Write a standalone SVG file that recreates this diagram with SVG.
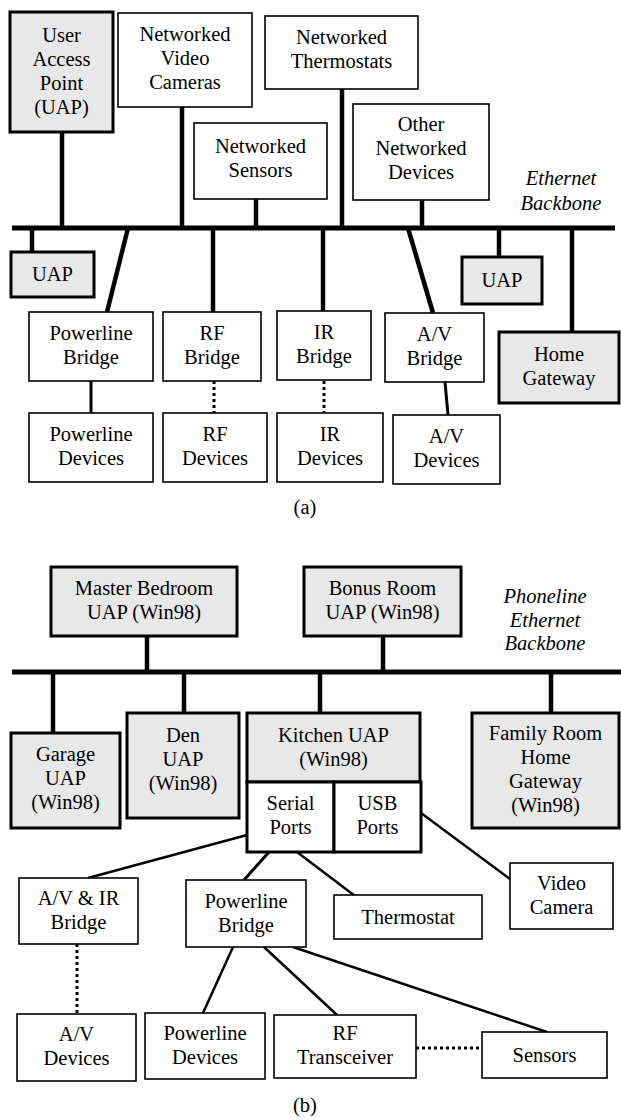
<svg xmlns="http://www.w3.org/2000/svg" width="621" height="1120" viewBox="0 0 621 1120">
<style>
  text { font-family: 'Liberation Serif', 'DejaVu Serif', serif; font-size: 20.5px; fill: #000; text-anchor: middle; }
  .it { font-style: italic; }
  .thin { fill: #fff; stroke: #000; stroke-width: 1.6; }
  .thick { fill: #e8e8e8; stroke: #000; stroke-width: 3; }
  .kwhite { fill: #fff; stroke: #000; stroke-width: 3; }
  .bb { stroke: #000; stroke-width: 5; fill: none; }
  .drop { stroke: #000; stroke-width: 4.5; fill: none; }
  .mid { stroke: #000; stroke-width: 3; fill: none; }
  .ln { stroke: #000; stroke-width: 2.5; fill: none; }
  .dot { stroke: #000; stroke-width: 3; stroke-dasharray: 3 3; fill: none; }
</style>
<rect width="621" height="1120" fill="#fff"/>

<!-- Connectors -->
<g id="connectors">
  <!-- (a) -->
  <line class="bb" x1="12" y1="228" x2="615" y2="228"/>
  <line class="drop" x1="62" y1="132" x2="62" y2="228"/>
  <line class="drop" x1="182" y1="107" x2="182" y2="228"/>
  <line class="drop" x1="256" y1="199" x2="256" y2="228"/>
  <line class="drop" x1="342" y1="89" x2="342" y2="228"/>
  <line class="drop" x1="422" y1="200" x2="422" y2="228"/>
  <line class="drop" x1="32" y1="228" x2="32" y2="252"/>
  <line class="drop" x1="128" y1="228" x2="107" y2="312"/>
  <line class="drop" x1="213" y1="228" x2="213" y2="312"/>
  <line class="drop" x1="323" y1="228" x2="323" y2="312"/>
  <line class="drop" x1="408" y1="228" x2="433" y2="313"/>
  <line class="drop" x1="499" y1="228" x2="499" y2="257"/>
  <line class="drop" x1="572" y1="228" x2="572" y2="332"/>
  <line class="mid" x1="91" y1="381" x2="91" y2="413"/>
  <line class="dot" x1="214" y1="381" x2="214" y2="413"/>
  <line class="dot" x1="324" y1="381" x2="324" y2="412"/>
  <line class="mid" x1="445" y1="382" x2="448" y2="415"/>
  <!-- (b) -->
  <line class="bb" x1="12" y1="672" x2="621" y2="672"/>
  <line class="drop" x1="147" y1="636" x2="147" y2="672"/>
  <line class="drop" x1="383" y1="636" x2="383" y2="672"/>
  <line class="drop" x1="53" y1="672" x2="53" y2="733"/>
  <line class="drop" x1="184" y1="672" x2="184" y2="713"/>
  <line class="drop" x1="320" y1="672" x2="320" y2="713"/>
  <line class="drop" x1="551" y1="672" x2="551" y2="713"/>
  <line class="ln" x1="247" y1="835" x2="88" y2="878"/>
  <line class="mid" x1="269" y1="852" x2="244" y2="880"/>
  <line class="ln" x1="297" y1="852" x2="355" y2="896"/>
  <line class="ln" x1="421" y1="813" x2="510" y2="879"/>
  <line class="dot" x1="77" y1="944" x2="77" y2="1014"/>
  <line class="ln" x1="233" y1="947" x2="203" y2="1013"/>
  <line class="ln" x1="264" y1="947" x2="337" y2="1015"/>
  <line class="ln" x1="293" y1="947" x2="547" y2="1032"/>
  <line class="dot" x1="416" y1="1048" x2="482" y2="1048"/>
</g>

<!-- (a) nodes -->
<g id="uap-main">
  <rect class="thick" x="10" y="12" width="103" height="120"/>
  <text x="61.5" y="42"><tspan x="61.5">User</tspan><tspan x="61.5" dy="24">Access</tspan><tspan x="61.5" dy="24">Point</tspan><tspan x="61.5" dy="24">(UAP)</tspan></text>
</g>
<g id="video-cameras">
  <rect class="thin" x="118" y="13" width="134" height="94"/>
  <text x="185" y="41"><tspan x="185">Networked</tspan><tspan x="185" dy="24">Video</tspan><tspan x="185" dy="24">Cameras</tspan></text>
</g>
<g id="thermostats">
  <rect class="thin" x="265" y="16" width="153" height="73"/>
  <text x="341.5" y="44"><tspan x="341.5">Networked</tspan><tspan x="341.5" dy="24">Thermostats</tspan></text>
</g>
<g id="sensors">
  <rect class="thin" x="194" y="123" width="133" height="76"/>
  <text x="260.5" y="153"><tspan x="260.5">Networked</tspan><tspan x="260.5" dy="24">Sensors</tspan></text>
</g>
<g id="other-devices">
  <rect class="thin" x="353" y="104" width="136" height="96"/>
  <text x="421" y="131"><tspan x="421">Other</tspan><tspan x="421" dy="24">Networked</tspan><tspan x="421" dy="24">Devices</tspan></text>
</g>
<g id="ethernet-label">
  <text class="it" x="561" y="185"><tspan x="561">Ethernet</tspan><tspan x="561" dy="25">Backbone</tspan></text>
</g>
<g id="uap-left">
  <rect class="thick" x="11" y="252" width="83" height="45"/>
  <text x="52.5" y="281">UAP</text>
</g>
<g id="uap-right">
  <rect class="thick" x="462" y="257" width="80" height="47"/>
  <text x="502" y="287">UAP</text>
</g>
<g id="home-gateway">
  <rect class="thick" x="499" y="332" width="120" height="71"/>
  <text x="559" y="361"><tspan x="559">Home</tspan><tspan x="559" dy="24">Gateway</tspan></text>
</g>
<g id="powerline-bridge-a">
  <rect class="thin" x="29" y="312" width="124" height="69"/>
  <text x="91" y="340"><tspan x="91">Powerline</tspan><tspan x="91" dy="24">Bridge</tspan></text>
</g>
<g id="rf-bridge">
  <rect class="thin" x="163" y="312" width="98" height="69"/>
  <text x="212" y="340"><tspan x="212">RF</tspan><tspan x="212" dy="24">Bridge</tspan></text>
</g>
<g id="ir-bridge">
  <rect class="thin" x="277" y="311" width="94" height="69"/>
  <text x="324" y="339"><tspan x="324">IR</tspan><tspan x="324" dy="24">Bridge</tspan></text>
</g>
<g id="av-bridge">
  <rect class="thin" x="385" y="313" width="99" height="69"/>
  <text x="434.5" y="341"><tspan x="434.5">A/V</tspan><tspan x="434.5" dy="24">Bridge</tspan></text>
</g>
<g id="powerline-devices-a">
  <rect class="thin" x="29" y="413" width="124" height="69"/>
  <text x="91" y="441"><tspan x="91">Powerline</tspan><tspan x="91" dy="24">Devices</tspan></text>
</g>
<g id="rf-devices">
  <rect class="thin" x="163" y="413" width="104" height="69"/>
  <text x="215" y="441"><tspan x="215">RF</tspan><tspan x="215" dy="24">Devices</tspan></text>
</g>
<g id="ir-devices">
  <rect class="thin" x="277" y="413" width="106" height="69"/>
  <text x="330" y="441"><tspan x="330">IR</tspan><tspan x="330" dy="24">Devices</tspan></text>
</g>
<g id="av-devices-a">
  <rect class="thin" x="393" y="415" width="107" height="69"/>
  <text x="446.5" y="443"><tspan x="446.5">A/V</tspan><tspan x="446.5" dy="24">Devices</tspan></text>
</g>
<g id="caption-a">
  <text x="305" y="514">(a)</text>
</g>

<!-- (b) nodes -->
<g id="master-bedroom">
  <rect class="thick" x="51" y="567" width="186" height="69"/>
  <text x="144" y="595"><tspan x="144">Master Bedroom</tspan><tspan x="144" dy="24">UAP (Win98)</tspan></text>
</g>
<g id="bonus-room">
  <rect class="thick" x="304" y="567" width="157" height="69"/>
  <text x="382.5" y="595"><tspan x="382.5">Bonus Room</tspan><tspan x="382.5" dy="24">UAP (Win98)</tspan></text>
</g>
<g id="phoneline-label">
  <text class="it" x="545" y="603"><tspan x="545">Phoneline</tspan><tspan x="545" dy="23.5">Ethernet</tspan><tspan x="545" dy="23.5">Backbone</tspan></text>
</g>
<g id="garage">
  <rect class="thick" x="11" y="733" width="109" height="95"/>
  <text x="65.5" y="761"><tspan x="65.5">Garage</tspan><tspan x="65.5" dy="24">UAP</tspan><tspan x="65.5" dy="24">(Win98)</tspan></text>
</g>
<g id="den">
  <rect class="thick" x="127" y="713" width="112" height="105"/>
  <text x="183" y="742"><tspan x="183">Den</tspan><tspan x="183" dy="24">UAP</tspan><tspan x="183" dy="24">(Win98)</tspan></text>
</g>
<g id="kitchen">
  <rect class="thick" x="247" y="713" width="173" height="69"/>
  <text x="333.5" y="742"><tspan x="333.5">Kitchen UAP</tspan><tspan x="333.5" dy="24">(Win98)</tspan></text>
</g>
<g id="serial-ports">
  <rect class="kwhite" x="247" y="782" width="87" height="70"/>
  <text x="290.5" y="810"><tspan x="290.5">Serial</tspan><tspan x="290.5" dy="24">Ports</tspan></text>
</g>
<g id="usb-ports">
  <rect class="kwhite" x="334" y="782" width="87" height="70"/>
  <text x="377.5" y="810"><tspan x="377.5">USB</tspan><tspan x="377.5" dy="24">Ports</tspan></text>
</g>
<g id="family-room">
  <rect class="thick" x="472" y="713" width="147" height="115"/>
  <text x="545.5" y="740"><tspan x="545.5">Family Room</tspan><tspan x="545.5" dy="24">Home</tspan><tspan x="545.5" dy="24">Gateway</tspan><tspan x="545.5" dy="24">(Win98)</tspan></text>
</g>
<g id="av-ir-bridge">
  <rect class="thin" x="19" y="878" width="119" height="66"/>
  <text x="78.5" y="905"><tspan x="78.5">A/V &amp; IR</tspan><tspan x="78.5" dy="24">Bridge</tspan></text>
</g>
<g id="powerline-bridge-b">
  <rect class="thin" x="186" y="880" width="120" height="67"/>
  <text x="246" y="908"><tspan x="246">Powerline</tspan><tspan x="246" dy="24">Bridge</tspan></text>
</g>
<g id="thermostat">
  <rect class="thin" x="334" y="895" width="148" height="44"/>
  <text x="408" y="924">Thermostat</text>
</g>
<g id="video-camera">
  <rect class="thin" x="510" y="863" width="103" height="66"/>
  <text x="561.5" y="890"><tspan x="561.5">Video</tspan><tspan x="561.5" dy="24">Camera</tspan></text>
</g>
<g id="av-devices-b">
  <rect class="thin" x="17" y="1014" width="119" height="67"/>
  <text x="76.5" y="1041"><tspan x="76.5">A/V</tspan><tspan x="76.5" dy="24">Devices</tspan></text>
</g>
<g id="powerline-devices-b">
  <rect class="thin" x="145" y="1013" width="120" height="66"/>
  <text x="205" y="1040"><tspan x="205">Powerline</tspan><tspan x="205" dy="24">Devices</tspan></text>
</g>
<g id="rf-transceiver">
  <rect class="thin" x="274" y="1015" width="142" height="63"/>
  <text x="345" y="1040"><tspan x="345">RF</tspan><tspan x="345" dy="24">Transceiver</tspan></text>
</g>
<g id="sensors-b">
  <rect class="thin" x="482" y="1032" width="125" height="46"/>
  <text x="544.5" y="1062">Sensors</text>
</g>
<g id="caption-b">
  <text x="305" y="1112">(b)</text>
</g>
</svg>
